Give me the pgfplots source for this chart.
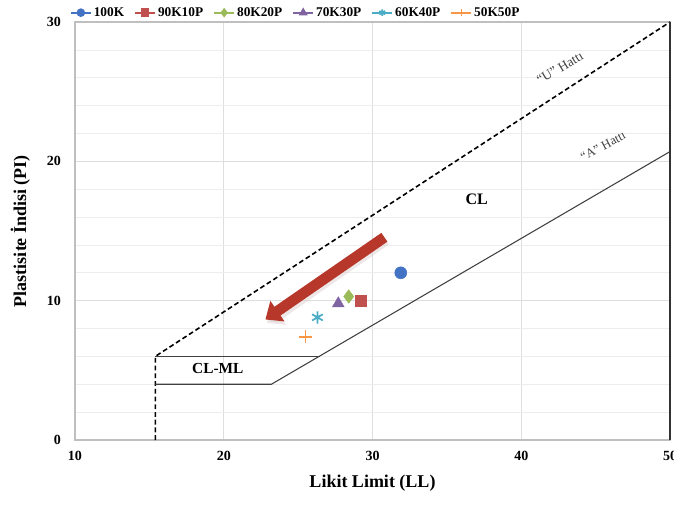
\documentclass[border=0pt]{standalone}
\usepackage{pgfplots}
\pgfplotsset{compat=1.18}
\usepackage{fontspec}
\setmainfont{Liberation Serif}
\usetikzlibrary{arrows.meta}
\definecolor{cBlue}{HTML}{4472C4}
\definecolor{cRed}{HTML}{C0504D}
\definecolor{cGreen}{HTML}{9BBB59}
\definecolor{cPurple}{HTML}{8064A2}
\definecolor{cCyan}{HTML}{4BACC6}
\definecolor{cOrange}{HTML}{F79646}
\definecolor{cArrow}{HTML}{B8372B}
\begin{document}
\begin{tikzpicture}
\begin{axis}[
  name=ax,
  scale only axis,
  width=446.25pt, height=313.5pt,
  xmin=10, xmax=50, ymin=0, ymax=30,
  xtick={10,20,30,40,50}, ytick={0,10,20,30},
  minor ytick={2,4,6,8,12,14,16,18,22,24,26,28},
  xmajorgrids, ymajorgrids, yminorgrids,
  major grid style={draw=black!13, line width=0.6pt},
  minor grid style={draw=black!7, line width=0.5pt},
  axis line style={draw=black!25, line width=0.8pt},
  major tick length=0pt, minor tick length=0pt,
  /pgf/number format/assume math mode=true,
  tick label style={font=\fontsize{10.5}{12}\selectfont\bfseries},
  xticklabel style={yshift=-5pt},
  yticklabel style={xshift=-7pt},
  xlabel={Likit Limit (LL)},
  ylabel={Plastisite İndisi (PI)},
  every axis x label/.style={at={(axis description cs:0.5,-0.103)}, anchor=center,
    font=\fontsize{13.5}{15}\selectfont\bfseries},
  every axis y label/.style={at={(axis description cs:-0.092,0.5)}, rotate=90, anchor=center,
    font=\fontsize{13.5}{15}\selectfont\bfseries},
  legend columns=6,
  legend style={at={(axis description cs:0,1)}, anchor=west, xshift=-4pt, yshift=7pt,
    draw=none, fill=none, inner sep=0pt,
    nodes={inner sep=1.5pt},
    font=\fontsize{10}{12}\selectfont\bfseries,
    /tikz/every even column/.append style={column sep=6pt}},
  legend image code/.code={\draw[mark repeat=2,mark phase=2,#1] plot coordinates {(0pt,0pt) (7.5pt,0pt) (15pt,0pt)};},
  legend image post style={mark size=2.5pt, line width=1.4pt},
  clip=false,
]
% boundary lines
\addplot[forget plot, black, line width=1.2pt, dash pattern=on 3.6pt off 2.2pt] coordinates {(15.4,0) (15.4,6) (50,30)};
\addplot[forget plot, black!75, line width=0.8pt] coordinates {(15.4,4) (23.2,4) (50,20.7)};
\addplot[forget plot, black!75, line width=0.8pt] coordinates {(15.4,6) (26.5,6)};
\addplot[forget plot, black!80, line width=1.1pt] coordinates {(50,0) (50,30)};
% arrow
\draw[cArrow!40!black!20, line width=8pt, -{Triangle[length=11pt, width=18pt]}, opacity=0.5]
  (axis cs:30.9,14.35) -- (axis cs:22.9,8.4);
\draw[cArrow, line width=8pt, -{Triangle[length=11pt, width=18pt]}]
  (axis cs:30.8,14.55) -- (axis cs:22.8,8.65);
% data
\addplot[cBlue, mark=*, mark size=4.5pt] coordinates {(31.9,12.0)};
\addlegendentry{100K}
\addplot[cRed, mark=square*, mark size=4.3pt] coordinates {(29.2,10.0)};
\addlegendentry{90K10P}
\addplot[cGreen, mark=diamond*, mark size=5pt] coordinates {(28.4,10.3)};
\addlegendentry{80K20P}
\addplot[cPurple, mark=triangle*, mark size=5pt] coordinates {(27.7,9.8)};
\addlegendentry{70K30P}
\addplot[cCyan, mark=asterisk, mark size=4.6pt, mark options={line width=1.3pt}] coordinates {(26.3,8.8)};
\addlegendentry{60K40P}
\addplot[cOrange, mark=+, mark size=4.8pt, mark options={line width=1.1pt}] coordinates {(25.5,7.4)};
\addlegendentry{50K50P}
% labels
\node[font=\fontsize{12}{14}\selectfont\bfseries] at (axis cs:37.0,17.3) {CL};
\node[font=\fontsize{11.5}{14}\selectfont\bfseries] at (axis cs:19.6,5.1) {CL-ML};
\node[font=\fontsize{10}{11}\selectfont, text=black!75, rotate=31] at (axis cs:42.6,26.7) {“U” Hattı};
\node[font=\fontsize{9.5}{11}\selectfont, text=black!75, rotate=28] at (axis cs:45.5,21.1) {“A” Hattı};
\end{axis}
\pgfresetboundingbox
\useasboundingbox ([xshift=-56.25pt,yshift=-48pt]ax.south west) rectangle ([xshift=3pt,yshift=16.5pt]ax.north east);
\end{tikzpicture}
\end{document}
